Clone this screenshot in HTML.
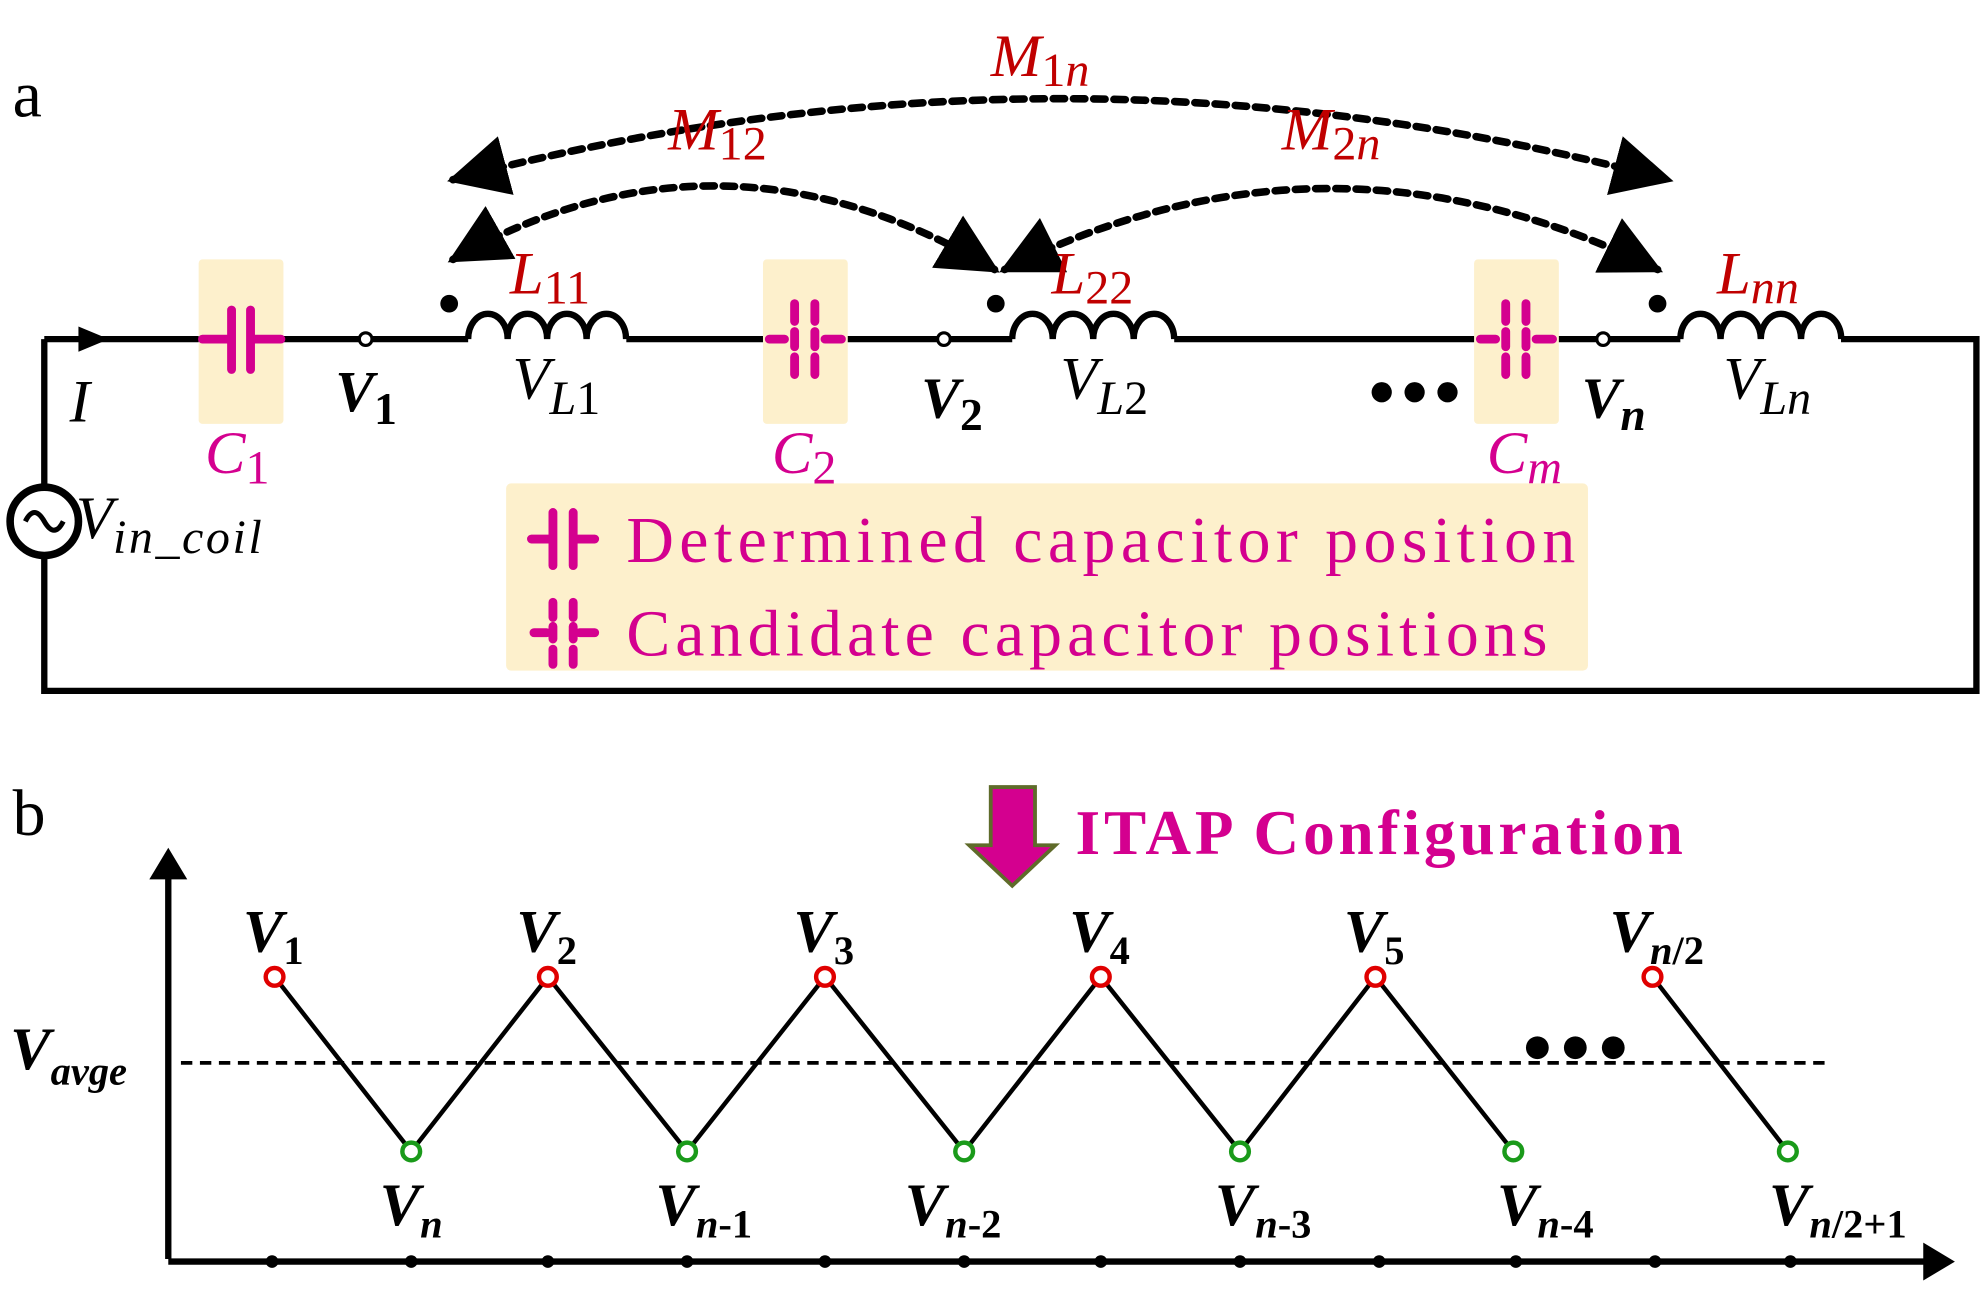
<!DOCTYPE html>
<html><head><meta charset="utf-8"><style>
html,body{margin:0;padding:0;background:#fff}
svg{display:block}
text{font-family:"Liberation Serif",serif}
</style></head><body>
<svg width="1984" height="1297" viewBox="0 0 1568 1025" preserveAspectRatio="none" xmlns="http://www.w3.org/2000/svg">
<defs>
<marker id="ah" viewBox="0 0 10 10" refX="9" refY="5" markerWidth="8" markerHeight="8" markerUnits="strokeWidth" orient="auto-start-reverse">
<path d="M0,0 L10,5 L0,10 z" fill="#000"/></marker>
</defs>
<text x="10" y="92" font-size="52">a</text>
<text x="10" y="660" font-size="52">b</text>
<rect x="157" y="205" width="67" height="130" rx="3" fill="#fdf0cc"/>
<rect x="603" y="205" width="67" height="130" rx="3" fill="#fdf0cc"/>
<rect x="1165" y="205" width="67" height="130" rx="3" fill="#fdf0cc"/>
<rect x="400" y="382" width="855" height="148" rx="4" fill="#fdf0cc"/>
<g stroke="#000" stroke-width="5" fill="none">
<path d="M35,268 H157 M224,268 H370 M495,268 H603 M670,268 H800 M928,268 H1165 M1232,268 H1328 M1455,268 H1562 V546 H35 V440 M35,384 V268"/>
<circle cx="35" cy="412" r="27" stroke-width="6"/>
<path d="M20,412 q7,-14 15,0 q8,14 15,0" stroke-width="4"/>
<path d="M370,268 a15.6,20 0 0 1 31.2,0 a15.6,20 0 0 1 31.2,0 a15.6,20 0 0 1 31.2,0 a15.6,20 0 0 1 31.2,0"/>
<path d="M800,268 a16,20 0 0 1 32,0 a16,20 0 0 1 32,0 a16,20 0 0 1 32,0 a16,20 0 0 1 32,0"/>
<path d="M1328,268 a15.9,20 0 0 1 31.8,0 a15.9,20 0 0 1 31.8,0 a15.9,20 0 0 1 31.8,0 a15.9,20 0 0 1 31.8,0"/>
</g>
<path d="M62,258 L86,268 L62,278 z" fill="#000"/>
<g fill="#fff" stroke="#000" stroke-width="2.5">
<circle cx="289" cy="268" r="5"/><circle cx="746" cy="268" r="5"/><circle cx="1267" cy="268" r="5"/>
</g>
<g fill="#000"><circle cx="355" cy="240" r="7"/><circle cx="787" cy="240" r="7"/><circle cx="1310" cy="240" r="7"/>
<circle cx="1092" cy="310" r="8"/><circle cx="1118" cy="310" r="8"/><circle cx="1144" cy="310" r="8"/></g>
<g stroke="#d4008f" stroke-width="7" stroke-linecap="round" fill="none">
<path d="M160,268 H183 M198,268 H222 M183,245 V292 M198,245 V292"/>
<path d="M608,268 H620 M652,268 H665 M628,240 V254 M644,240 V254 M628,262 V274 M644,262 V274 M628,282 V296 M644,282 V296"/>
<path d="M1170,268 H1182 M1214,268 H1227 M1190,240 V254 M1206,240 V254 M1190,262 V274 M1206,262 V274 M1190,282 V296 M1206,282 V296"/>
<path d="M420,426 H437 M453,426 H470 M437,405 V447 M453,405 V447"/>
<path d="M422,500 H432 M458,500 H470 M437,476 V488 M453,476 V488 M437,495 V505 M453,495 V505 M437,513 V525 M453,513 V525"/>
</g>
<g stroke="#000" stroke-width="6" stroke-dasharray="9,7" fill="none" stroke-linecap="round">
<path d="M358,142 Q838,14 1318,142" marker-start="url(#ah)" marker-end="url(#ah)"/>
<path d="M358,205 Q570,85 786,213" marker-start="url(#ah)" marker-end="url(#ah)"/>
<path d="M794,213 Q1050,85 1310,213" marker-start="url(#ah)" marker-end="url(#ah)"/>
</g>
<g fill="#c00000" font-style="italic" font-size="48">
<text x="783" y="60">M<tspan font-style="normal" font-size="38" dy="8">1</tspan><tspan font-size="38">n</tspan></text>
<text x="528" y="118">M<tspan font-style="normal" font-size="38" dy="8">12</tspan></text>
<text x="1013" y="118">M<tspan font-style="normal" font-size="38" dy="8">2</tspan><tspan font-size="38">n</tspan></text>
<text x="403" y="232">L<tspan font-style="normal" font-size="38" dy="8">11</tspan></text>
<text x="831" y="232">L<tspan font-style="normal" font-size="38" dy="8">22</tspan></text>
<text x="1357" y="232">L<tspan font-size="38" dy="8">nn</tspan></text>
</g>
<g font-style="italic" font-size="48">
<text x="55" y="333">I</text>
<text x="405" y="315">V<tspan font-size="38" dy="12">L</tspan><tspan font-style="normal" font-size="38">1</tspan></text>
<text x="838" y="315">V<tspan font-size="38" dy="12">L</tspan><tspan font-style="normal" font-size="38">2</tspan></text>
<text x="1362" y="315">V<tspan font-size="38" dy="12">Ln</tspan></text>
<text x="60" y="425">V<tspan font-size="38" dy="12" letter-spacing="2">in_coil</tspan></text>
</g>
<g font-style="italic" font-weight="bold" font-size="46">
<text x="265" y="325">V<tspan font-style="normal" font-size="36" dy="10">1</tspan></text>
<text x="728" y="330">V<tspan font-style="normal" font-size="36" dy="10">2</tspan></text>
<text x="1250" y="330">V<tspan font-size="36" dy="10">n</tspan></text>
</g>
<g fill="#d4008f" font-style="italic" font-size="48">
<text x="162" y="374">C<tspan font-style="normal" font-size="38" dy="8">1</tspan></text>
<text x="610" y="374">C<tspan font-style="normal" font-size="38" dy="8">2</tspan></text>
<text x="1175" y="374">C<tspan font-size="38" dy="8">m</tspan></text>
</g>
<g fill="#d4008f" font-size="52">
<text x="495" y="444" textLength="750" lengthAdjust="spacing">Determined capacitor position</text>
<text x="495" y="518" textLength="728" lengthAdjust="spacing">Candidate capacitor positions</text>
</g>
<path d="M783,622 H818 V668 H834 L800,700 L766,668 H783 z" fill="#d4008f" stroke="#5f6b2a" stroke-width="3"/>
<text x="850" y="675" fill="#d4008f" font-weight="bold" font-size="50" textLength="480" lengthAdjust="spacing">ITAP Configuration</text>
<g stroke="#000" stroke-width="5" fill="none">
<path d="M133,995 V688 M133,997 H1530"/>
</g>
<path d="M118,695 L133,670 L148,695 z" fill="#000"/>
<path d="M1520,982 L1545,997 L1520,1012 z" fill="#000"/>
<g fill="#000">
<circle cx="215" cy="997" r="5"/><circle cx="325" cy="997" r="5"/><circle cx="433" cy="997" r="5"/><circle cx="543" cy="997" r="5"/><circle cx="652" cy="997" r="5"/><circle cx="762" cy="997" r="5"/><circle cx="870" cy="997" r="5"/><circle cx="980" cy="997" r="5"/><circle cx="1090" cy="997" r="5"/><circle cx="1198" cy="997" r="5"/><circle cx="1308" cy="997" r="5"/><circle cx="1415" cy="997" r="5"/>
<circle cx="1215" cy="828" r="9"/><circle cx="1245" cy="828" r="9"/><circle cx="1275" cy="828" r="9"/>
</g>
<path d="M143,840 H1445" stroke="#000" stroke-width="3" stroke-dasharray="9,6"/>
<path d="M217,772 L325,910 L433,772 L543,910 L652,772 L762,910 L870,772 L980,910 L1087,772 L1196,910 M1306,772 L1413,910" stroke="#000" stroke-width="3.5" fill="none"/>
<g fill="#fff" stroke="#e00000" stroke-width="3.5">
<circle cx="217" cy="772" r="7"/><circle cx="433" cy="772" r="7"/><circle cx="652" cy="772" r="7"/><circle cx="870" cy="772" r="7"/><circle cx="1087" cy="772" r="7"/><circle cx="1306" cy="772" r="7"/>
</g>
<g fill="#fff" stroke="#1a9a1a" stroke-width="3.5">
<circle cx="325" cy="910" r="7"/><circle cx="543" cy="910" r="7"/><circle cx="762" cy="910" r="7"/><circle cx="980" cy="910" r="7"/><circle cx="1196" cy="910" r="7"/><circle cx="1413" cy="910" r="7"/>
</g>
<g font-style="italic" font-weight="bold" font-size="48">
<text x="192" y="752">V<tspan font-style="normal" font-size="32" dy="10">1</tspan></text>
<text x="408" y="752">V<tspan font-style="normal" font-size="32" dy="10">2</tspan></text>
<text x="627" y="752">V<tspan font-style="normal" font-size="32" dy="10">3</tspan></text>
<text x="845" y="752">V<tspan font-style="normal" font-size="32" dy="10">4</tspan></text>
<text x="1062" y="752">V<tspan font-style="normal" font-size="32" dy="10">5</tspan></text>
<text x="1272" y="752">V<tspan font-size="32" dy="10">n</tspan><tspan font-style="normal" font-size="32">/2</tspan></text>
<text x="8" y="845">V<tspan font-size="32" dy="12">avge</tspan></text>
<text x="300" y="968">V<tspan font-size="32" dy="10">n</tspan></text>
<text x="518" y="968">V<tspan font-size="32" dy="10">n</tspan><tspan font-style="normal" font-size="32">-1</tspan></text>
<text x="715" y="968">V<tspan font-size="32" dy="10">n</tspan><tspan font-style="normal" font-size="32">-2</tspan></text>
<text x="960" y="968">V<tspan font-size="32" dy="10">n</tspan><tspan font-style="normal" font-size="32">-3</tspan></text>
<text x="1183" y="968">V<tspan font-size="32" dy="10">n</tspan><tspan font-style="normal" font-size="32">-4</tspan></text>
<text x="1398" y="968">V<tspan font-size="32" dy="10">n</tspan><tspan font-style="normal" font-size="32">/2+1</tspan></text>
</g>
</svg>
</body></html>
